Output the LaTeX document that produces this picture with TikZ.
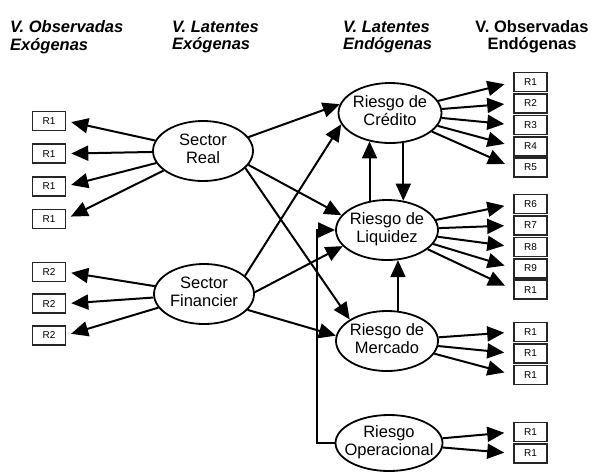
\documentclass[tikz,border=0pt]{standalone}
\usepackage{fontspec}
\setmainfont{Liberation Sans}
\usetikzlibrary{positioning,arrows.meta,shapes.geometric}
\tikzset{
  lat/.style={draw, ellipse, line width=1.8pt, minimum width=100pt, minimum height=60pt, inner sep=0pt, font=\fontsize{16.5}{18.5}\selectfont},
  obs/.style={draw=black!85, line width=1.6pt, minimum width=33pt, minimum height=19pt, inner sep=0pt, font=\fontsize{10}{12}\selectfont},
  hdr/.style={font=\fontsize{16.5}{17.5}\selectfont\bfseries\itshape, align=left, anchor=west, inner sep=0pt},
  arr/.style={-{Triangle[length=17pt,width=15pt]}, line width=2pt},
}
\newcommand{\ltxt}[1]{\makebox[0pt]{\begin{tabular}{@{}c@{}}#1\end{tabular}}}

\begin{document}
\begin{tikzpicture}[x=1pt, y=-1pt]
\useasboundingbox (0,0) rectangle (594,472);
% headers
\node[hdr] (h1) at (10,37) {V. Observadas\\Exógenas};
\node[hdr] (h2) at (172,37) {V. Latentes\\Exógenas};
\node[hdr] (h3) at (343,37) {V. Latentes\\Endógenas};
\node[hdr, font=\fontsize{16.5}{17.5}\selectfont\bfseries, align=center, anchor=center] (h4) at (532,37) {V. Observadas\\Endógenas};
% latent variables
\node[lat] (sreal) at (203,151) {\ltxt{Sector\\Real}};
\node[lat] (sfin) at (204,294) {\ltxt{Sector\\Financier}};
\node[lat, minimum width=103pt] (cred) at (390,113) {\ltxt{Riesgo de\\Crédito}};
\node[lat, minimum width=102pt] (liq) at (387,230) {\ltxt{Riesgo de\\Liquidez}};
\node[lat, minimum width=102pt] (merc) at (387,341) {\ltxt{Riesgo de\\Mercado}};
\node[lat, minimum width=107pt, minimum height=56pt] (oper) at (389,443) {\ltxt{Riesgo\\Operacional}};
% observed, exogenous
\node[obs] (x1) at (49,121) {R1};
\node[obs, below=12pt of x1] (x2) {R1};
\node[obs, below=12pt of x2] (x3) {R1};
\node[obs, below=12pt of x3] (x4) {R1};
\node[obs] (y1) at (49,272) {R2};
\node[obs, below=11pt of y1] (y2) {R2};
\node[obs, below=11pt of y2] (y3) {R2};
% observed, endogenous
\node[obs] (c1) at (530.5,82) {R1};
\node[obs, below=0.8pt of c1] (c2) {R2};
\node[obs, below=0.8pt of c2] (c3) {R3};
\node[obs, below=0.8pt of c3] (c4) {R4};
\node[obs, below=0.8pt of c4] (c5) {R5};
\node[obs] (l1) at (530.5,204) {R6};
\node[obs, below=0.8pt of l1] (l2) {R7};
\node[obs, below=0.8pt of l2] (l3) {R8};
\node[obs, below=0.8pt of l3] (l4) {R9};
\node[obs, below=0.8pt of l4] (l5) {R1};
\node[obs] (m1) at (530.5,332) {R1};
\node[obs, below=0.8pt of m1] (m2) {R1};
\node[obs, below=0.8pt of m2] (m3) {R1};
\node[obs] (o1) at (530.5,432) {R1};
\node[obs, below=0.8pt of o1] (o2) {R1};
% exogenous indicators
\draw[arr, shorten >=5pt] (sreal) -- (x1.east);
\draw[arr, shorten >=5pt] (sreal) -- (x2.east);
\draw[arr, shorten >=5pt] (sreal) -- (x3.east);
\draw[arr, shorten >=5pt] (sreal) -- (x4.east);
\draw[arr, shorten >=5pt] (sfin) -- (y1.east);
\draw[arr, shorten >=5pt] (sfin) -- (y2.east);
\draw[arr, shorten >=5pt] (sfin) -- (y3.east);
% structural paths
\draw[arr] (sreal.17) -- (cred.170);
\draw[arr] (sreal.-17) -- (liq.162);
\draw[arr] (sreal.-22) -- (merc.150);
\draw[arr] (sfin.24) -- (cred.-167);
\draw[arr] (sfin.2) -- (liq.-160);
\draw[arr] (sfin.-20) -- (merc.174);
\draw[arr] (liq.121) -- (liq.121 |- cred.234);
\draw[arr] (cred.294) -- (cred.294 |- liq.61);
\draw[arr] (merc.70) -- (merc.70 |- liq.-70);
\draw[arr] (oper.west) -- ++(-18,0) |- (liq.west);
% endogenous indicators
\draw[arr, shorten >=9pt] (cred) -- (c1.west);
\draw[arr, shorten >=9pt] (cred) -- (c2.west);
\draw[arr, shorten >=9pt] (cred) -- (c3.west);
\draw[arr, shorten >=9pt] (cred) -- (c4.west);
\draw[arr, shorten >=9pt] (cred) -- (c5.west);
\draw[arr, shorten >=9pt] (liq) -- (l1.west);
\draw[arr, shorten >=9pt] (liq) -- (l2.west);
\draw[arr, shorten >=9pt] (liq) -- (l3.west);
\draw[arr, shorten >=9pt] (liq) -- (l4.west);
\draw[arr, shorten >=9pt] (liq) -- (l5.west);
\draw[arr, shorten >=9pt] (merc) -- (m1.west);
\draw[arr, shorten >=9pt] (merc) -- (m2.west);
\draw[arr, shorten >=9pt] (merc) -- (m3.west);
\draw[arr, shorten >=9pt] (oper) -- (o1.west);
\draw[arr, shorten >=9pt] (oper) -- (o2.west);
\end{tikzpicture}
\end{document}
